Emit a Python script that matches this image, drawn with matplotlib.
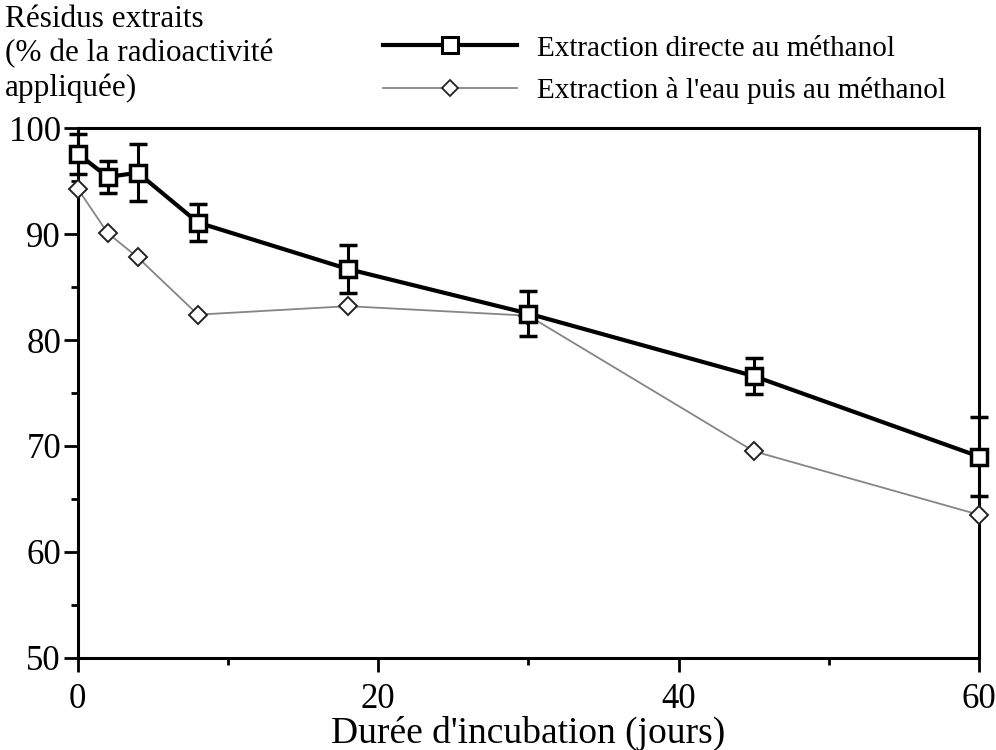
import matplotlib.pyplot as plt
from matplotlib.lines import Line2D
from matplotlib.ticker import MultipleLocator

plt.rcParams['font.family'] = ['Liberation Serif', 'DejaVu Serif']

# jours d'incubation
jours = [0, 2, 4, 8, 18, 30, 45, 60]

# extraction directe au methanol (moyenne + ecart)
direct = [97.6, 95.4, 95.8, 91.1, 86.7, 82.5, 76.6, 69.0]
direct_err = [1.9, 1.5, 2.7, 1.7, 2.3, 2.1, 1.7, 3.7]

# extraction a l'eau puis au methanol
eau = [94.3, 90.1, 87.8, 82.4, 83.2, 82.3, 69.5, 63.5]

fig = plt.figure(figsize=(9.96, 7.5), dpi=100)
ax = fig.add_axes([0.078, 0.123, 0.905, 0.706])

ax.plot(jours, eau, color='#858585', lw=1.3, marker='D', ms=9,
        mfc='white', mec='#222222', mew=1.4, zorder=3, clip_on=False)
ax.errorbar(jours, direct, yerr=direct_err, color='black', lw=3,
            marker='s', ms=12, mfc='white', mec='black', mew=2.5,
            elinewidth=2.2, capsize=6.5, capthick=2.5, zorder=4,
            clip_on=False)

ax.set_xlim(0, 60)
ax.set_ylim(50, 100)
ax.xaxis.set_major_locator(MultipleLocator(20))
ax.xaxis.set_minor_locator(MultipleLocator(10))
ax.yaxis.set_major_locator(MultipleLocator(10))
ax.yaxis.set_minor_locator(MultipleLocator(5))
ax.tick_params(which='major', direction='out', length=10, width=2,
               labelsize=25, pad=2)
ax.tick_params(which='minor', direction='out', length=5, width=2)
ax.tick_params(axis='x', which='major', pad=8)
ax.tick_params(axis='y', which='both', right=False)
ax.tick_params(axis='x', which='both', top=False)
for s in ax.spines.values():
    s.set_linewidth(2.2)

ax.set_xlabel("Durée d'incubation (jours)", fontsize=27, labelpad=0)
fig.text(0.005, 0.993, "Résidus extraits\n(% de la radioactivité\nappliquée)",
         fontsize=22.5, va='top', ha='left', linespacing=1.22)

handles = [
    Line2D([], [], color='black', lw=3, marker='s', ms=11, mfc='white',
           mec='black', mew=2.2),
    Line2D([], [], color='#858585', lw=1.3, marker='D', ms=8, mfc='white',
           mec='#222222', mew=1.3),
]
labels = ['Extraction directe au méthanol',
          "Extraction à l'eau puis au méthanol"]
fig.legend(handles, labels, loc='upper left', bbox_to_anchor=(0.358, 0.988),
           frameon=False, fontsize=21, handlelength=4.6, handletextpad=0.7,
           labelspacing=0.52)

fig.savefig('out.png', dpi=100)
